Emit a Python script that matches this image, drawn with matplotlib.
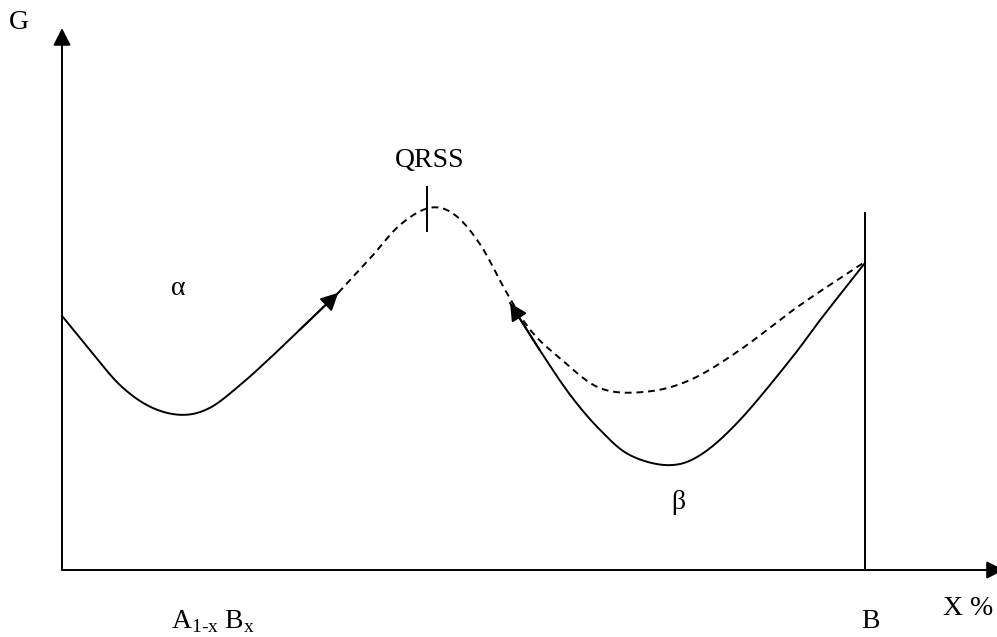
import numpy as np
import matplotlib
matplotlib.use("Agg")
import matplotlib.pyplot as plt

plt.rcParams['font.family'] = ['Liberation Serif', 'DejaVu Serif']
plt.rcParams['mathtext.fontset'] = 'custom'
plt.rcParams['mathtext.rm'] = 'Liberation Serif'

# composition axis: 0 = A(1-x)B(x) side, 100 = pure B ; G in arbitrary units
alpha_x = [0, 3.5, 7.2, 11.0, 14.9, 18.4, 22.2, 25.9, 29.6, 34.4]
alpha_g = [47.5, 41.1, 34.6, 30.5, 29.0, 30.3, 34.6, 39.6, 44.9, 51.8]

meta_x = [34.4, 38.4, 42.1, 45.8, 48.9, 52.1, 55.2, 58.3, 62.0, 67.0, 72.6, 78.2, 84.4, 91.9, 100]
meta_g = [51.8, 58.3, 64.5, 67.7, 66.4, 60.8, 52.3, 44.9, 39.6, 34.0, 33.3, 35.5, 41.1, 49.5, 57.6]

beta_x = [55.8, 59.5, 63.3, 67.0, 70.7, 75.5, 79.5, 84.4, 90.7, 94.4, 100]
beta_g = [49.9, 41.1, 32.7, 26.2, 21.5, 19.6, 21.5, 28.0, 39.3, 46.7, 57.4]

qrss_x = 45.5
b_x = 100


def catmull_rom(xs, ys, n=30):
    p = np.column_stack([xs, ys]).astype(float)
    p = np.vstack([2 * p[0] - p[1], p, 2 * p[-1] - p[-2]])
    out = []
    t = np.linspace(0, 1, n, endpoint=False)[:, None]
    for i in range(1, len(p) - 2):
        p0, p1, p2, p3 = p[i - 1], p[i], p[i + 1], p[i + 2]
        seg = 0.5 * ((2 * p1) + (-p0 + p2) * t + (2 * p0 - 5 * p1 + 4 * p2 - p3) * t ** 2
                     + (-p0 + 3 * p1 - 3 * p2 + p3) * t ** 3)
        out.append(seg)
    out.append(p[-2][None, :])
    out = np.vstack(out)
    return out[:, 0], out[:, 1]


fig = plt.figure(figsize=(9.97, 6.37), dpi=100)
ax = fig.add_axes([0, 0, 1, 1])
ax.set_xlim(-7.72, 116.44)
ax.set_ylim(-12.52, 106.54)
ax.axis('off')

lw = 1.4
head = dict(arrowstyle='-|>,head_length=0.75,head_width=0.38', color='black', lw=lw,
            mutation_scale=14, shrinkA=0, shrinkB=0)
# axes with arrowheads
ax.annotate('', xy=(0, 101.3), xytext=(0, 0), arrowprops=head, annotation_clip=False)
ax.annotate('', xy=(117.3, 0), xytext=(0, 0), arrowprops=head, annotation_clip=False)

# curves
x, y = catmull_rom(alpha_x, alpha_g)
ax.plot(x, y, color='black', lw=lw)
x, y = catmull_rom(meta_x, meta_g)
ax.plot(x, y, color='black', lw=lw, ls=(0, (3.5, 2.5)))
x, y = catmull_rom(beta_x, beta_g)
ax.plot(x, y, color='black', lw=lw)

# arrowheads on the transformation paths
ax.annotate('', xy=(alpha_x[-1], alpha_g[-1]), xytext=(alpha_x[-2], alpha_g[-2]),
            arrowprops=head)
ax.annotate('', xy=(beta_x[0], beta_g[0]), xytext=(beta_x[1], beta_g[1]),
            arrowprops=head)

# QRSS marker and pure-B boundary
ax.plot([qrss_x, qrss_x], [63.4, 71.6], color='black', lw=lw)
ax.plot([b_x, b_x], [0, 66.7], color='black', lw=lw)

fs = 20
ax.text(-5.4, 102.3, 'G', fontsize=fs, ha='center', va='center')
ax.text(45.8, 76.5, 'QRSS', fontsize=fs, ha='center', va='center')
ax.text(14.5, 52.6, 'α', fontsize=fs, ha='center', va='center')
ax.text(76.8, 12.7, 'β', fontsize=fs, ha='center', va='center')
ax.text(18.8, -9.6, r'A$_{\mathrm{1\text{-}x}}$ B$_{\mathrm{x}}$', fontsize=fs,
        ha='center', va='center')
ax.text(100.7, -9.6, 'B', fontsize=fs, ha='center', va='center')
ax.text(109.7, -7.2, 'X %', fontsize=fs, ha='left', va='center')

fig.savefig('out.png', dpi=100)
